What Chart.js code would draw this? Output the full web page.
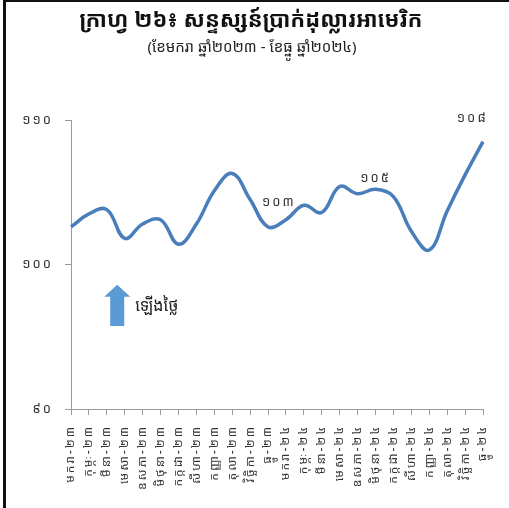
<!DOCTYPE html>
<html>
<head>
<meta charset="utf-8">
<script src="https://cdn.jsdelivr.net/npm/chart.js@4"></script>
<style>
    html, body { margin: 0; padding: 0; background: #fff; }
    #wrap { width: 509px; height: 508px; position: relative; }
</style>
</head>
<body>
<div id="wrap"><canvas id="chart" width="509" height="508"></canvas></div>
<script>
// Chart 26: US dollar index, Jan 2023 - Dec 2024

const KHMER_FONT = "'Noto Sans Khmer', 'Khmer OS', 'Khmer OS System', 'Noto Serif Khmer', 'DejaVu Sans', sans-serif";

// Data
const months = ['មករា', 'កុម្ភៈ', 'មីនា', 'មេសា', 'ឧសភា', 'មិថុនា', 'កក្កដា', 'សីហា', 'កញ្ញា', 'តុលា', 'វិច្ឆិកា', 'ធ្នូ'];
const years = ['២៣', '២៤'];
const dollarIndex = [
    102.6, 103.5, 103.8, 101.8, 102.8, 103.1, 101.4, 102.8, 105.1, 106.3, 104.5, 102.6,
    103.1, 104.1, 103.6, 105.4, 104.9, 105.2, 104.7, 102.3, 101.0, 103.7, 106.2, 108.5
];
const yTicks = [90, 100, 110];
const yTickLabels = ['៩០', '១០០', '១១០'];

// Text notes on the line
const noteLabels = ['១០៣', '១០៥', '១០៨'];
const noteIndex = [11.6, 17, 22.4];
const noteValue = [104.3, 106.0, 110.1];

const labels = [];
years.forEach(y => months.forEach(m => labels.push(m + '-' + y)));

// Frame, title, notes and the "rising" arrow
const decorPlugin = {
    id: 'decor',
    beforeDraw(chart) {
        // axis labels in the original are widely spaced
        chart.ctx.letterSpacing = '2px';
    },
    afterDraw(chart) {
        const ctx = chart.ctx;
        const xs = chart.scales.x;
        const ys = chart.scales.y;
        ctx.save();
        ctx.letterSpacing = '0px';

        // frame (left and top)
        ctx.fillStyle = '#111';
        ctx.fillRect(3, 0, 3, 508);
        ctx.fillRect(3, 0, 506, 2);

        // title
        ctx.textAlign = 'center';
        ctx.textBaseline = 'middle';
        ctx.fillStyle = '#111';
        ctx.font = 'bold 22px ' + KHMER_FONT;
        ctx.fillText('ក្រាហ្វ ២៦៖ សន្ទស្សន៍ប្រាក់ដុល្លារអាមេរិក', 251, 21);
        ctx.font = '15px ' + KHMER_FONT;
        ctx.fillStyle = '#222';
        ctx.fillText('(ខែមករា ឆ្នាំ២០២៣ - ខែធ្នូ ឆ្នាំ២០២៤)', 252, 48);

        // value notes
        ctx.letterSpacing = '2px';
        ctx.font = '13px ' + KHMER_FONT;
        ctx.fillStyle = '#333';
        noteLabels.forEach((t, i) => {
            ctx.fillText(t, xs.getPixelForValue(noteIndex[i]), ys.getPixelForValue(noteValue[i]));
        });
        ctx.letterSpacing = '0px';

        // up arrow
        const ax = xs.getPixelForValue(2.58);
        const tip = ys.getPixelForValue(98.6);
        const base = ys.getPixelForValue(95.75);
        ctx.fillStyle = '#5B9BD5';
        ctx.beginPath();
        ctx.moveTo(ax, tip);
        ctx.lineTo(ax + 13, tip + 12);
        ctx.lineTo(ax + 7, tip + 12);
        ctx.lineTo(ax + 7, base);
        ctx.lineTo(ax - 7, base);
        ctx.lineTo(ax - 7, tip + 12);
        ctx.lineTo(ax - 13, tip + 12);
        ctx.closePath();
        ctx.fill();

        ctx.textAlign = 'left';
        ctx.fillStyle = '#222';
        ctx.font = '16px ' + KHMER_FONT;
        ctx.fillText('ឡើងថ្លៃ', ax + 18, ys.getPixelForValue(97.1));

        ctx.restore();
    }
};

const ctx = document.getElementById('chart').getContext('2d');
const chart = new Chart(ctx, {
    type: 'line',
    data: {
        labels: labels,
        datasets: [{
            label: 'សន្ទស្សន៍ប្រាក់ដុល្លារ',
            data: dollarIndex,
            borderColor: '#4A7EBB',
            borderWidth: 3.5,
            pointRadius: 0,
            tension: 0.4,
            fill: false
        }]
    },
    options: {
        responsive: false,
        animation: false,
        layout: {
            padding: { left: 10, right: 26, top: 120, bottom: 0 }
        },
        plugins: {
            legend: { display: false },
            tooltip: { enabled: false }
        },
        scales: {
            x: {
                offset: false,
                grid: {
                    drawOnChartArea: false,
                    drawTicks: true,
                    tickLength: 6,
                    color: '#9a9a9a'
                },
                border: { display: true, color: '#9a9a9a', width: 1 },
                ticks: {
                    autoSkip: false,
                    minRotation: 90,
                    maxRotation: 90,
                    padding: 10,
                    color: '#333',
                    font: { family: KHMER_FONT, size: 12 }
                },
                afterFit(scale) { scale.height = 99; }
            },
            y: {
                min: 90,
                max: 110,
                afterBuildTicks(scale) {
                    scale.ticks = yTicks.map(v => ({ value: v }));
                },
                grid: {
                    drawOnChartArea: false,
                    drawTicks: true,
                    tickLength: 6,
                    color: '#9a9a9a'
                },
                border: { display: true, color: '#9a9a9a', width: 1 },
                ticks: {
                    padding: 12,
                    color: '#333',
                    font: { family: KHMER_FONT, size: 13 },
                    callback: function(value) {
                        const i = yTicks.indexOf(value);
                        return i >= 0 ? yTickLabels[i] : '';
                    }
                },
                afterFit(scale) { scale.width = 61; }
            }
        }
    },
    plugins: [decorPlugin]
});
</script>
</body>
</html>
